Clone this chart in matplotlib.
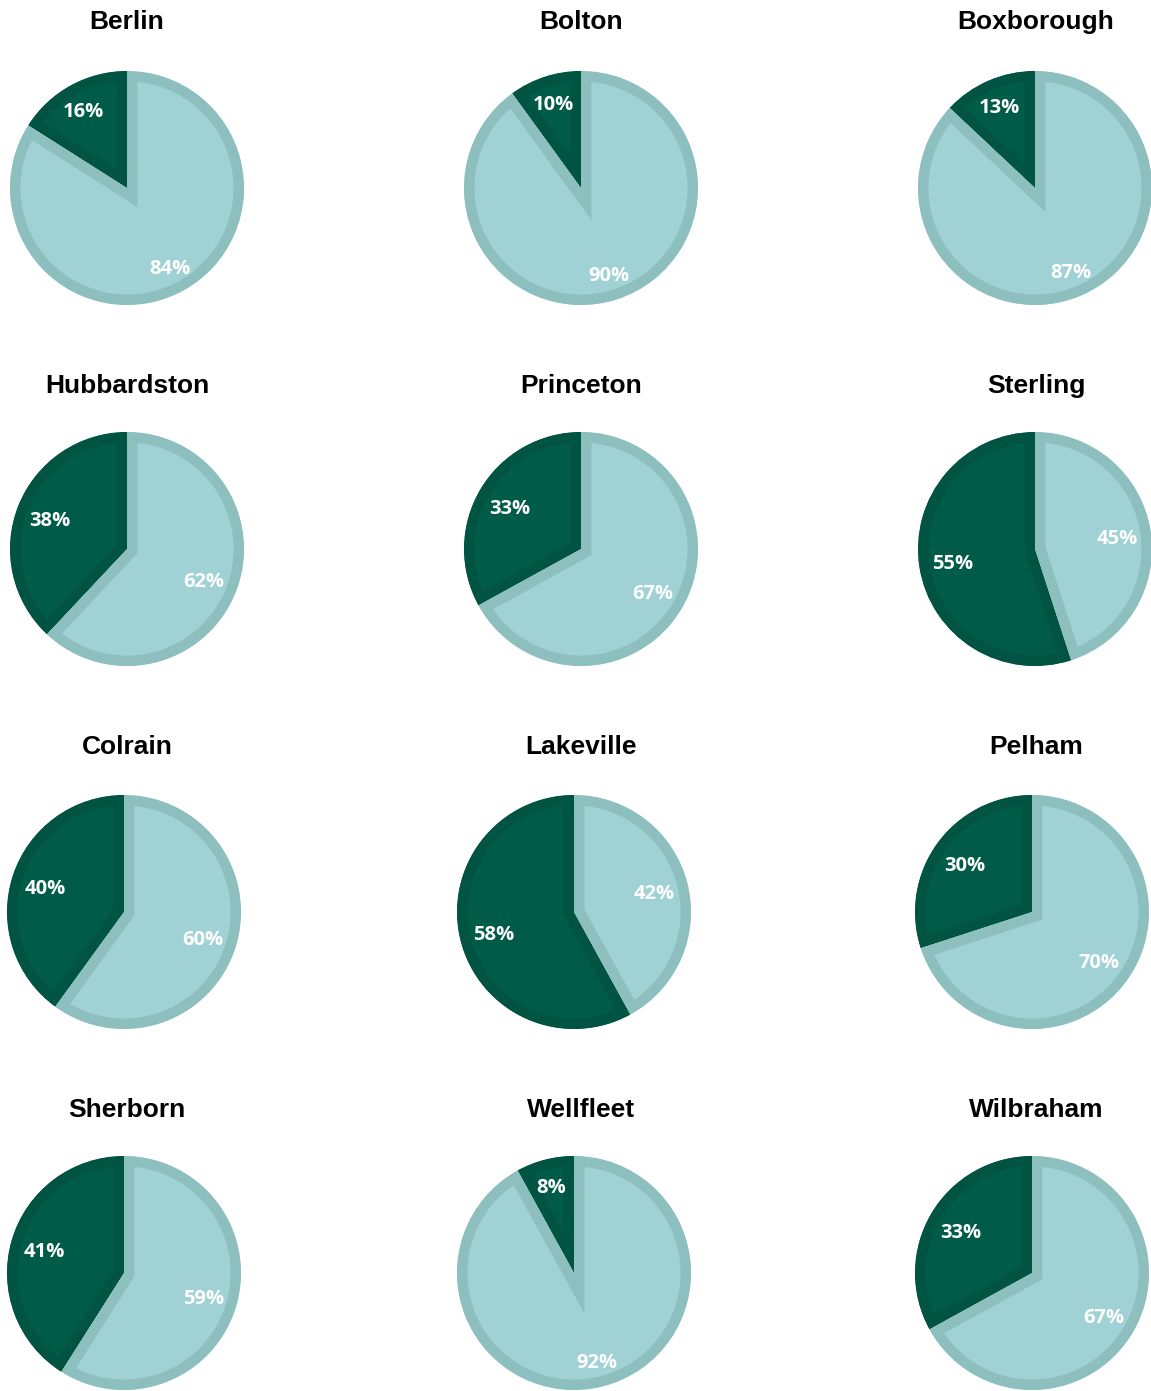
import matplotlib
matplotlib.use("Agg")
import matplotlib.pyplot as plt
from matplotlib.patches import Wedge

# share of each town (dark slice first, light slice second)
towns = ["Berlin", "Bolton", "Boxborough",
         "Hubbardston", "Princeton", "Sterling",
         "Colrain", "Lakeville", "Pelham",
         "Sherborn", "Wellfleet", "Wilbraham"]
dark_pct = [16, 10, 13, 38, 33, 55, 40, 58, 30, 41, 8, 33]
light_pct = [84, 90, 87, 62, 67, 45, 60, 42, 70, 59, 92, 67]

DARK_FILL, DARK_EDGE = "#005c48", "#005441"
LIGHT_FILL, LIGHT_EDGE = "#a0d1d4", "#8dbfbf"

W, H = 1151, 1391
fig = plt.figure(figsize=(W / 100, H / 100), dpi=100)

# pie centres in pixels (grid layout of the original sheet)
col_x = [[127, 581, 1035], [127, 581, 1035], [124, 574, 1032], [124, 574, 1032]]
row_y = [188, 549, 912, 1273]
title_x = [127, 581, 1036]
title_y = [22, 386, 747, 1110]
R = 117

for i, town in enumerate(towns):
    row, col = divmod(i, 3)
    cx, cy = col_x[row][col], row_y[row]
    ax = fig.add_axes([(cx - R) / W, (H - cy - R) / H, 2 * R / W, 2 * R / H])

    vals = [dark_pct[i], light_pct[i]]
    dist = 0.77 if min(vals) < 20 else 0.71
    wedges, texts, autotexts = ax.pie(
        vals, colors=[DARK_FILL, LIGHT_FILL], startangle=90, counterclock=True,
        radius=1, autopct=lambda p: f"{round(p)}%", pctdistance=dist,
        wedgeprops=dict(linewidth=15),
        textprops=dict(color="white", fontsize=14.5, fontweight="bold",
                       va="center_baseline", family=["Open Sans", "DejaVu Sans"]))
    # inner stroke: clip each wedge's outline to a copy of its own shape
    for w, ec in zip(wedges, [DARK_EDGE, LIGHT_EDGE]):
        w.set_edgecolor(ec)
        w.set_joinstyle("miter")
        clip = Wedge(w.center, w.r, w.theta1, w.theta2, transform=ax.transData)
        w.set_clip_on(True)
        w.set_clip_path(clip)
    ax.set_aspect("equal")
    ax.set_xlim(-1, 1)
    ax.set_ylim(-1, 1)
    ax.axis("off")

    fig.text(title_x[col] / W, 1 - title_y[row] / H, town, ha="center", va="center",
             fontsize=19, fontweight="bold",
             family=["Liberation Sans Narrow", "Liberation Sans", "DejaVu Sans"])

fig.savefig("out.png", dpi=100)
